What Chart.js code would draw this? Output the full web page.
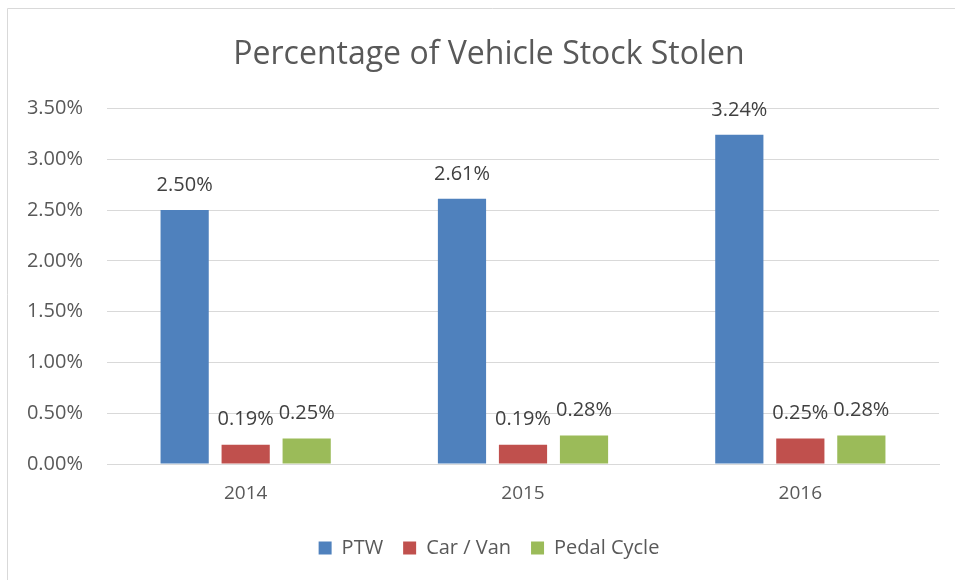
<!DOCTYPE html>
<html>
<head>
<meta charset="utf-8">
<script src="https://cdn.jsdelivr.net/npm/chart.js@4.4.1/dist/chart.umd.min.js"></script>
<style>
  html, body { margin: 0; padding: 0; background: #fff; overflow: hidden; }
  #wrap { width: 955px; height: 580px; position: relative; overflow: hidden; }
</style>
</head>
<body>
<div id="wrap"><canvas id="myChart" width="978" height="580"></canvas></div>
<script>
const years = ['2014', '2015', '2016'];
const ptw = [2.50, 2.61, 3.24];
const carVan = [0.19, 0.19, 0.25];
const pedalCycle = [0.25, 0.28, 0.28];
const yTicks = [0, 0.5, 1, 1.5, 2, 2.5, 3, 3.5];

const textColor = '#595959';
const fontFamily = "'Open Sans', sans-serif";

// draws the % value above every bar
const valueLabels = {
  id: 'valueLabels',
  afterDatasetsDraw(chart) {
    const ctx = chart.ctx;
    ctx.save();
    ctx.font = '20px ' + fontFamily;
    ctx.fillStyle = '#404040';
    ctx.textAlign = 'center';
    ctx.textBaseline = 'middle';
    chart.data.datasets.forEach((ds, i) => {
      const meta = chart.getDatasetMeta(i);
      meta.data.forEach((bar, j) => {
        ctx.fillText(ds.data[j].toFixed(2) + '%', bar.x, bar.y - 25);
      });
    });
    ctx.restore();
  }
};

// thin frame like the spreadsheet chart border
const frame = {
  id: 'frame',
  beforeDraw(chart) {
    const ctx = chart.ctx;
    ctx.save();
    ctx.strokeStyle = '#d9d9d9';
    ctx.lineWidth = 1;
    ctx.beginPath();
    ctx.moveTo(7.5, 580);
    ctx.lineTo(7.5, 8.5);
    ctx.lineTo(978, 8.5);
    ctx.stroke();
    ctx.restore();
  }
};

let ctx = document.getElementById('myChart').getContext('2d');
const myChart = new Chart(ctx, {
  type: 'bar',
  data: {
    labels: years,
    datasets: [
      { label: 'PTW', data: ptw, backgroundColor: '#4F81BD' },
      { label: 'Car / Van', data: carVan, backgroundColor: '#C0504D' },
      { label: 'Pedal Cycle', data: pedalCycle, backgroundColor: '#9BBB59' }
    ]
  },
  options: {
    responsive: false,
    animation: false,
    categoryPercentage: 0.66,
    barPercentage: 0.79,
    layout: { padding: { left: 0, right: 0, top: 0, bottom: 12 } },
    plugins: {
      title: {
        display: true,
        text: 'Percentage of Vehicle Stock Stolen',
        color: textColor,
        font: { family: fontFamily, size: 32, weight: 'normal' },
        padding: { top: 36, bottom: 34 }
      },
      legend: {
        position: 'bottom',
        labels: {
          color: textColor,
          font: { family: fontFamily, size: 20 },
          boxWidth: 13,
          boxHeight: 13,
          padding: 20
        }
      },
      tooltip: { enabled: false }
    },
    scales: {
      x: {
        grid: { display: false, drawTicks: false },
        border: { color: '#d9d9d9' },
        ticks: { color: textColor, font: { family: fontFamily, size: 19 }, padding: 18 },
        afterFit(scale) { scale.height = 54; }
      },
      y: {
        min: 0,
        max: 3.5,
        grid: { color: '#d9d9d9', drawTicks: false },
        border: { display: false },
        afterBuildTicks(scale) { scale.ticks = yTicks.map(v => ({ value: v })); },
        afterFit(scale) { scale.width = 107; },
        ticks: {
          color: textColor,
          font: { family: fontFamily, size: 20 },
          padding: 24,
          callback: v => v.toFixed(2) + '%'
        }
      },
      // empty right margin so title and legend centre like the original
      yRight: {
        position: 'right',
        min: 0,
        max: 1,
        grid: { display: false, drawTicks: false },
        border: { display: false },
        ticks: { display: false },
        afterFit(scale) { scale.width = 39; }
      }
    }
  },
  plugins: [valueLabels, frame]
});
</script>
</body>
</html>
